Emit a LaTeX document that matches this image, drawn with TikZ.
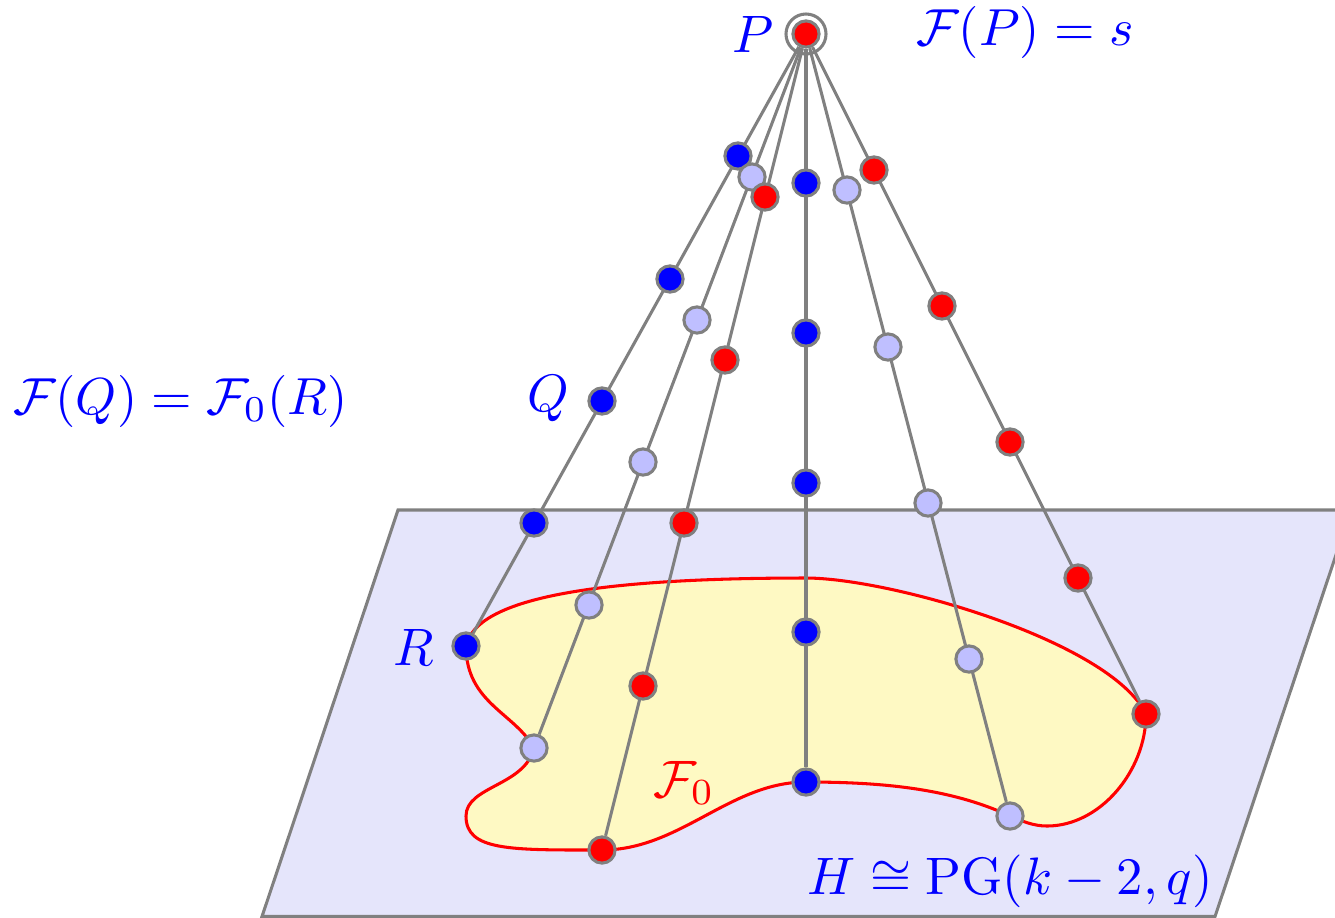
\documentclass[tikz,border=0pt]{standalone}
\usepackage{amsmath,amssymb,amsfonts}
\usepackage{xcolor}
\usepackage{tikz}
\usetikzlibrary{backgrounds}

\definecolor{planecol}{RGB}{229,229,251}
\definecolor{ovalcol}{RGB}{254,249,195}
\definecolor{palecol}{RGB}{191,191,255}

\begin{document}
\begin{tikzpicture}[x=0.0667mm, y=-0.0667mm,
    dot/.style={circle, draw=gray, line width=0.58pt, minimum size=1.75mm, inner sep=0pt},
    bluedot/.style={dot, fill=blue},
    reddot/.style={dot, fill=red},
    paledot/.style={dot, fill=palecol},
    spoke/.style={gray, line width=0.58pt},
    bluelabel/.style={text=blue, inner sep=0pt},
    redlabel/.style={text=red, inner sep=0pt}]
    \useasboundingbox (0,-1) rectangle (1335,916);

    % Vertex
    \node (P) [reddot] at (806,33) {};
    \node (ring) [circle, draw=gray, line width=0.58pt, minimum size=2.67mm, inner sep=0pt] at (806,33) {};

    % First line
    \node (a1) [bluedot] at (738,155) {};
    \node (a2) [bluedot] at (670,278) {};
    \node (Q) [bluedot] at (602,400) {};
    \node (a4) [bluedot] at (534,522) {};
    \node (R) [bluedot] at (466,645) {};

    % Second line
    \node (b1) [paledot] at (752,176) {};
    \node (b2) [paledot] at (697,319) {};
    \node (b3) [paledot] at (643,461) {};
    \node (b4) [paledot] at (589,604) {};
    \node (b5) [paledot] at (534,747) {};

    % Third line
    \node (c1) [reddot] at (765,196) {};
    \node (c2) [reddot] at (725,359) {};
    \node (c3) [reddot] at (684,522) {};
    \node (c4) [reddot] at (643,685) {};
    \node (c5) [reddot] at (602,849) {};

    % Fourth line
    \node (d1) [bluedot] at (806,182) {};
    \node (d2) [bluedot] at (806,332) {};
    \node (d3) [bluedot] at (806,482) {};
    \node (d4) [bluedot] at (806,631) {};
    \node (d5) [bluedot] at (806,781) {};

    % Fifth line
    \node (e1) [paledot] at (847,189) {};
    \node (e2) [paledot] at (888,346) {};
    \node (e3) [paledot] at (928,502) {};
    \node (e4) [paledot] at (969,658) {};
    \node (e5) [paledot] at (1010,815) {};

    % Sixth line
    \node (f1) [reddot] at (874,169) {};
    \node (f2) [reddot] at (942,305) {};
    \node (f3) [reddot] at (1010,441) {};
    \node (f4) [reddot] at (1078,577) {};
    \node (f5) [reddot] at (1146,713) {};

    % Labels
    \node (labP) [bluelabel] at (753,33) {$P$};
    \node (labFP) [bluelabel, scale=0.988] at (1025,31) {$\mathcal{F}(P)=s$};
    \node (labQ) [bluelabel] at (548,398) {$Q$};
    \node (labFQ) [bluelabel, scale=0.988] at (180.5,400) {$\mathcal{F}(Q)=\mathcal{F}_0(R)$};
    \node (labR) [bluelabel] at (414,646) {$R$};
    \node (labF0) [redlabel] at (684,782) {$\mathcal{F}_0$};
    \node (labH) [bluelabel] at (1010,880) {$H\cong\mathrm{PG}(k-2,q)$};

    \begin{scope}[on background layer]
        % Plane and oval
        \begin{scope}
            \clip (0,-1) rectangle (1335,916);
            \draw[spoke, fill=planecol] (398,509) -- (1351,509) -- (1215,915.5) -- (262,915.5) -- cycle;
        \end{scope}
        \draw[red, line width=0.58pt, fill=ovalcol] (R.center)
            .. controls (476,598) and (590,577) .. (806,577)
            .. controls (890,577) and (1110,640) .. (f5.center)
            .. controls (1146,770) and (1100,825) .. (1047,825)
            .. controls (1033,825) and (1022,820) .. (e5.center)
            .. controls (950,787) and (880,781) .. (d5.center)
            .. controls (730,781) and (680,849) .. (c5.center)
            .. controls (510,849) and (466,850) .. (466,815)
            .. controls (466,785) and (525,785) .. (b5.center)
            .. controls (515,712) and (466,702) .. (R.center) -- cycle;

        % Connections
        \draw[spoke] (P) -- (R);
        \draw[spoke] (P) -- (b5);
        \draw[spoke] (P) -- (c5);
        \draw[spoke] (P) -- (d5);
        \draw[spoke] (P) -- (e5);
        \draw[spoke] (P) -- (f5);
    \end{scope}
\end{tikzpicture}
\end{document}
